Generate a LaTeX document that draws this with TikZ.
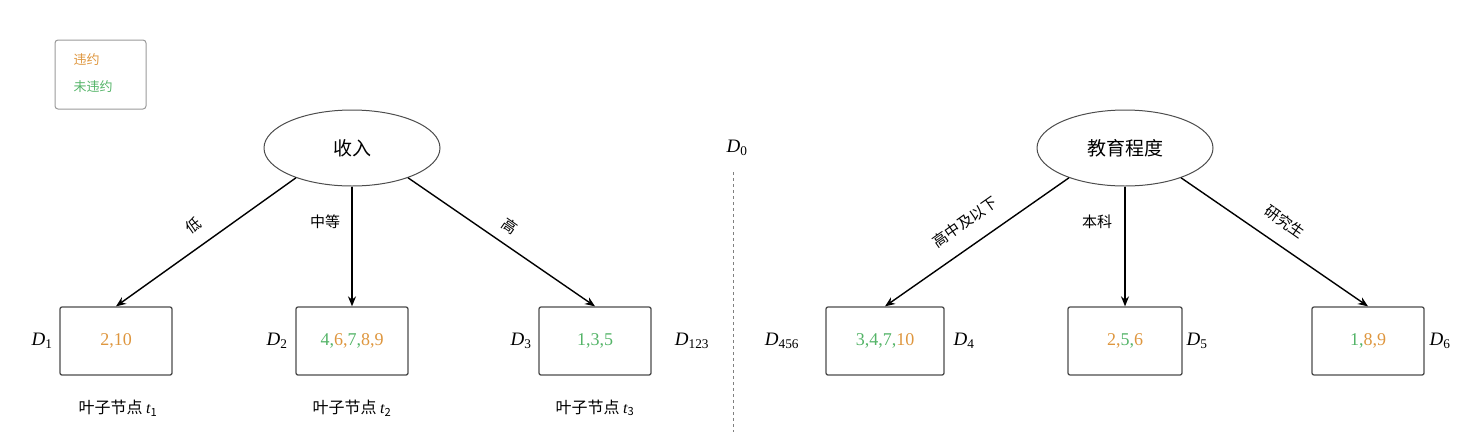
\documentclass[tikz,border=0pt]{standalone}
\usepackage{fontspec}
\setmainfont{Liberation Serif}
\newfontfamily\cjk{Noto Sans CJK SC}
\usetikzlibrary{shapes.geometric,arrows.meta}
\definecolor{org}{RGB}{222,150,62}
\definecolor{grn}{RGB}{84,180,104}
\newcommand{\Or}[1]{\textcolor{org}{#1}}
\newcommand{\Gr}[1]{\textcolor{grn}{#1}}
\begin{document}
\begin{tikzpicture}[x=1pt,y=-1pt,
  leaf/.style={draw=black!70,rounded corners=2pt,minimum width=112pt,minimum height=68pt,font=\fontsize{18}{20}\selectfont,line width=1.3pt},
  attr/.style={draw=black!70,line width=1pt,ellipse,minimum width=176pt,minimum height=76pt,font=\cjk\fontsize{19}{20}\selectfont},
  arr/.style={-{Stealth[length=10pt,width=8pt]},line width=1.4pt},
  lab/.style={font=\cjk\fontsize{15}{16}\selectfont},
  dl/.style={font=\itshape\fontsize{19}{20}\selectfont},
  leafname/.style={font=\cjk\fontsize{16}{18}\selectfont}]
\useasboundingbox (0,0) rectangle (1461,440);
\node[draw=black!40,line width=1pt,rounded corners=3pt,minimum width=91pt,minimum height=69pt] (legend) at (100.5,74.5) {};
\node[anchor=west,font=\cjk\fontsize{13}{14}\selectfont,text=org] (l1) at (70,60) {违约};
\node[anchor=west,font=\cjk\fontsize{13}{14}\selectfont,text=grn] (l2) at (70,87) {未违约};
\node[attr] (inc) at (352,148) {收入};
\node[attr] (edu) at (1125,148) {教育程度};
\node[leaf] (b1) at (116,341) {\Or{2,10}};
\node[leaf] (b2) at (352,341) {\Gr{4,}\Or{6,}\Gr{7,}\Or{8,9}};
\node[leaf] (b3) at (595,341) {\Gr{1,3,5}};
\node[leaf,minimum width=118pt] (b4) at (885,341) {\Gr{3,4,7,}\Or{10}};
\node[leaf,minimum width=114pt] (b5) at (1125,341) {\Or{2,}\Gr{5,}\Or{6}};
\node[leaf] (b6) at (1368,341) {\Gr{1,}\Or{8,9}};
\draw[arr] (inc.208) -- (b1.north);
\draw[arr] (inc.south) -- (b2.north);
\draw[arr] (inc.332) -- (b3.north);
\draw[arr] (edu.208) -- (b4.north);
\draw[arr] (edu.south) -- (b5.north);
\draw[arr] (edu.332) -- (b6.north);
\node[lab,rotate=35] (t1) at (193,226) {低};
\node[lab] (t2) at (325,222) {中等};
\node[lab,rotate=-35] (t3) at (510,226) {高};
\node[lab,rotate=35] (t4) at (965,222) {高中及以下};
\node[lab] (t5) at (1097,222) {本科};
\node[lab,rotate=-35] (t6) at (1285,222) {研究生};
\node[dl] (d1) at (42,341) {D\textsubscript{\upshape 1}};
\node[dl] (d2) at (277,341) {D\textsubscript{\upshape 2}};
\node[dl] (d3) at (521,341) {D\textsubscript{\upshape 3}};
\node[dl] (d123) at (692,341) {D\textsubscript{\upshape 123}};
\node[dl] (d456) at (782,341) {D\textsubscript{\upshape 456}};
\node[dl] (d4) at (964,341) {D\textsubscript{\upshape 4}};
\node[dl] (d5) at (1197,341) {D\textsubscript{\upshape 5}};
\node[dl] (d6) at (1440,341) {D\textsubscript{\upshape 6}};
\node[dl] (d0) at (737,148) {D\textsubscript{\upshape 0}};
\coordinate (s1) at (733,172);
\coordinate (s2) at (733,432);
\draw[dashed,gray,line width=0.8pt] (s1) -- (s2);
\node[leafname] (n1) at (118,408) {叶子节点 {\rmfamily\itshape t}\textsubscript{1}};
\node[leafname] (n2) at (352,408) {叶子节点 {\rmfamily\itshape t}\textsubscript{2}};
\node[leafname] (n3) at (595,408) {叶子节点 {\rmfamily\itshape t}\textsubscript{3}};
\end{tikzpicture}
\end{document}
